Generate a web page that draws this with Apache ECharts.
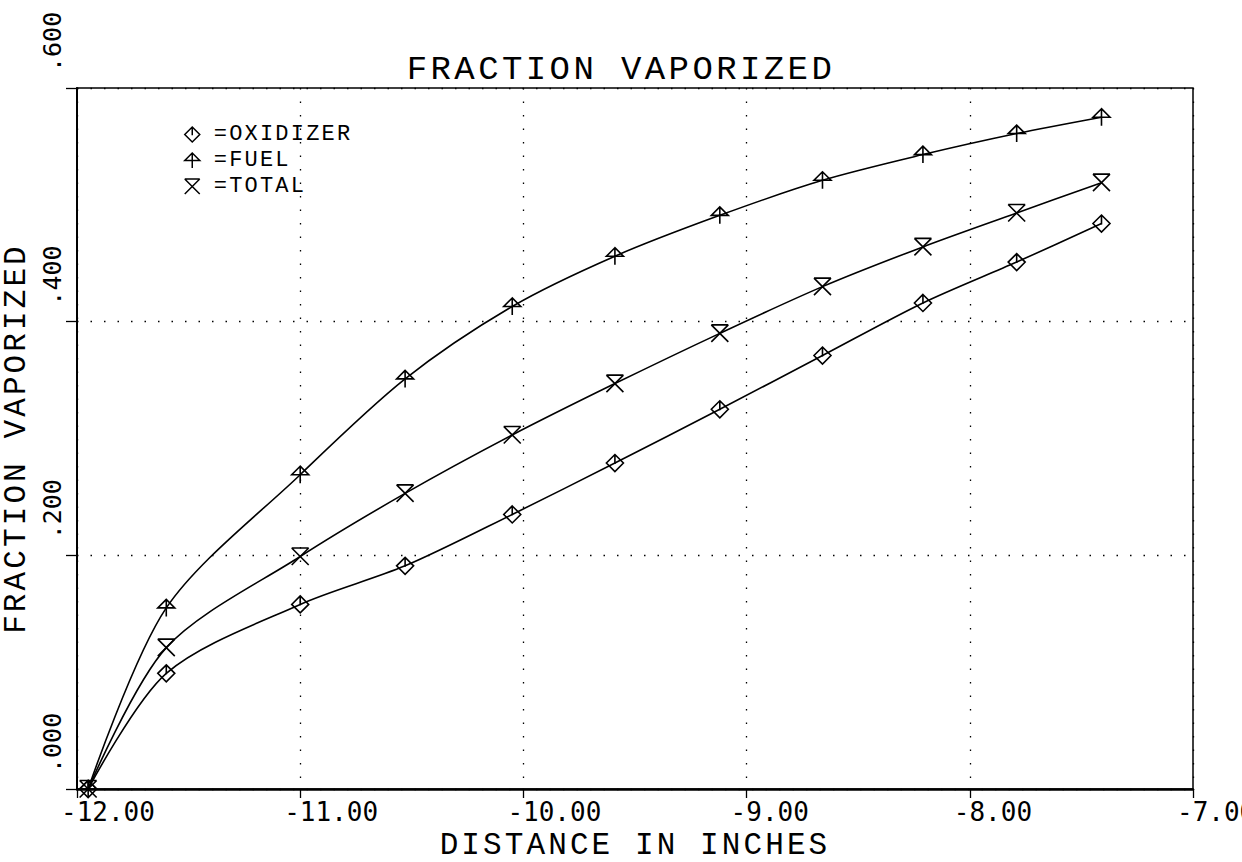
<!DOCTYPE html>
<html>
<head>
<meta charset="utf-8">
<script src="https://cdn.jsdelivr.net/npm/echarts@6/dist/echarts.min.js"></script>
<style>
  html, body { margin: 0; padding: 0; background: #fff; }
  #chart { width: 1242px; height: 862px; }
  /* plotter lettering is widely spaced */
  #chart text[style*="Liberation"] { letter-spacing: 0.1em; }
</style>
</head>
<body>
<div id="chart"></div>
<script>
const distance = [-11.95, -11.60, -11.00, -10.53, -10.05, -9.59, -9.12, -8.66, -8.21, -7.79, -7.41];
const oxidizer = [0.000, 0.099, 0.158, 0.191, 0.235, 0.279, 0.325, 0.371, 0.416, 0.451, 0.484];
const fuel = [0.000, 0.155, 0.269, 0.351, 0.413, 0.456, 0.491, 0.521, 0.543, 0.561, 0.575];
const total = [0.000, 0.121, 0.199, 0.253, 0.303, 0.347, 0.390, 0.430, 0.464, 0.493, 0.519];

const xTickLabels = ['-12.00', '-11.00', '-10.00', '-9.00', '-8.00', '-7.00'];
const yTickLabels = ['.000', '.200', '.400', '.600'];

const SYM_OX = 'path://M10,0 L20,10 L10,20 L0,10 Z M10,0 L10,11';
const SYM_FUEL = 'path://M10,0 L0,10 L20,10 Z M10,0 L10,20';
const SYM_TOTAL = 'path://M0,0 L20,0 M0,0 L20,20 M20,0 L0,20';

const WORD_FONT = 'Liberation Mono';
const NUM_FONT = 'DejaVu Sans Mono';

const pairs = (ys) => distance.map((x, i) => [x, ys[i]]);

const mkSeries = (name, ys, sym) => ({
  type: 'line',
  name: name,
  data: pairs(ys),
  smooth: 0.3,
  symbol: sym,
  symbolSize: 17,
  showAllSymbol: true,
  lineStyle: { color: '#000', width: 1.6 },
  itemStyle: { color: 'transparent', borderColor: '#000', borderWidth: 1.6 },
  emphasis: { disabled: true },
  z: 3
});

const gridLine = { show: true, lineStyle: { color: '#000', width: 1.3, type: [1.5, 12] } };

const chart = echarts.init(document.getElementById('chart'), null, { renderer: 'svg' });
chart.setOption({
  animation: false,
  backgroundColor: '#fff',
  title: {
    text: 'FRACTION VAPORIZED',
    left: 'center',
    top: 48,
    textStyle: { fontFamily: WORD_FONT, fontSize: 34, fontWeight: 'normal', color: '#000' }
  },
  legend: {
    orient: 'vertical',
    left: 179,
    top: 117,
    itemWidth: 15,
    itemHeight: 16,
    itemGap: 1,
    data: [
      { name: 'OXIDIZER', icon: SYM_OX },
      { name: 'FUEL', icon: SYM_FUEL },
      { name: 'TOTAL', icon: SYM_TOTAL }
    ],
    formatter: (name) => '=' + name,
    itemStyle: { color: 'transparent', borderColor: '#000', borderWidth: 1.5 },
    textStyle: { fontFamily: WORD_FONT, fontSize: 22, lineHeight: 25, color: '#000', padding: [0, 0, 0, 9] }
  },
  grid: {
    left: 77, right: 49, top: 88, bottom: 73,
    outerBoundsMode: 'none',
    show: true, borderColor: '#000', borderWidth: 1.5
  },
  xAxis: {
    type: 'value',
    min: -12, max: -7, interval: 1,
    name: 'DISTANCE IN INCHES',
    nameLocation: 'middle',
    nameGap: 29,
    nameTextStyle: { fontFamily: WORD_FONT, fontSize: 31, color: '#000' },
    axisLine: { lineStyle: { color: '#000', width: 2.5 } },
    axisTick: { show: true, inside: false, length: 9, lineStyle: { color: '#000', width: 1.3 } },
    axisLabel: {
      margin: 10,
      align: 'left',
      padding: [0, 0, 0, -16],
      fontFamily: NUM_FONT, fontSize: 26, color: '#000',
      showMinLabel: true, showMaxLabel: true,
      hideOverlap: false,
      formatter: (v) => xTickLabels[Math.round(v + 12)]
    },
    splitLine: gridLine
  },
  yAxis: {
    type: 'value',
    min: 0, max: 0.6, interval: 0.2,
    name: 'FRACTION VAPORIZED',
    nameLocation: 'middle',
    nameGap: 42,
    nameTextStyle: { fontFamily: WORD_FONT, fontSize: 31, color: '#000' },
    axisLine: { lineStyle: { color: '#000', width: 2 } },
    axisTick: { show: true, inside: false, length: 11, lineStyle: { color: '#000', width: 1.3 } },
    axisLabel: {
      rotate: 90,
      align: 'left',
      margin: 12,
      padding: [0, 0, 0, 16],
      fontFamily: NUM_FONT, fontSize: 25, color: '#000',
      showMinLabel: true, showMaxLabel: true,
      formatter: (v) => yTickLabels[Math.round(v / 0.2)]
    },
    splitLine: gridLine
  },
  series: [
    mkSeries('OXIDIZER', oxidizer, SYM_OX),
    mkSeries('FUEL', fuel, SYM_FUEL),
    mkSeries('TOTAL', total, SYM_TOTAL)
  ]
});
</script>
</body>
</html>
